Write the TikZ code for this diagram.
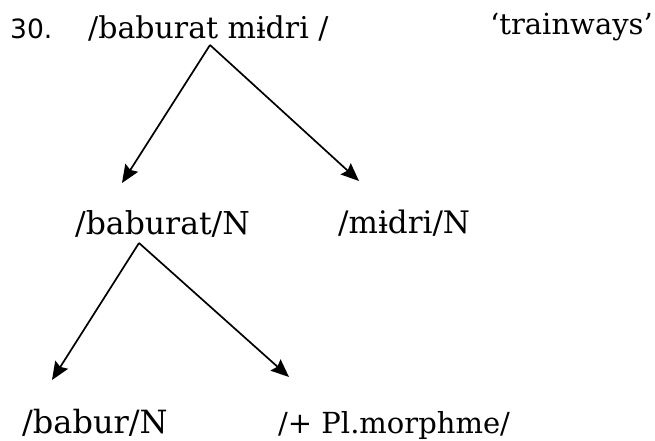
\documentclass[tikz,border=0pt]{standalone}
\usepackage{fontspec}
\setmainfont{DejaVu Serif}
\newfontfamily\numfont{DejaVu Sans}
\usetikzlibrary{arrows.meta}
\begin{document}
\begin{tikzpicture}[x=1pt,y=-1pt,
  word/.style={anchor=base west,inner sep=0pt},
  branch/.style={line width=1.7pt,-{Stealth[length=18pt,width=15pt,inset=2.5pt]}}]
  \useasboundingbox (0,0) rectangle (655,441);
  % heading line
  \node[anchor=base west,inner sep=0pt,font=\numfont\fontsize{26.5}{28}\selectfont] (num) at (10,39) {30.};
  \node[word,font=\fontsize{30}{34}\selectfont] (whole) at (88,39) {/baburat mɨdri /};
  \node[word,font=\fontsize{29}{34}\selectfont] (gloss) at (490,35) {‘trainways’};
  % first split
  \node[word,font=\fontsize{31.5}{34}\selectfont] (bab) at (75,234) {/baburat/N};
  \node[word,font=\fontsize{31}{34}\selectfont] (mid) at (338,233) {/mɨdri/N};
  % second split
  \node[word,font=\fontsize{32}{34}\selectfont] (root) at (22,433) {/babur/N};
  \node[word,font=\fontsize{29}{34}\selectfont] (pl) at (278,433) {/+ Pl.morphme/};
  % branch points and arrow ends
  \coordinate (top) at (210,45);
  \coordinate (topL) at (122,183);
  \coordinate (topR) at (359,181);
  \coordinate (mida) at (139,243);
  \coordinate (midL) at (52,380);
  \coordinate (midR) at (289,377);
  \draw[branch] (top) -- (topL);
  \draw[branch] (top) -- (topR);
  \draw[branch] (mida) -- (midL);
  \draw[branch] (mida) -- (midR);
\end{tikzpicture}
\end{document}
